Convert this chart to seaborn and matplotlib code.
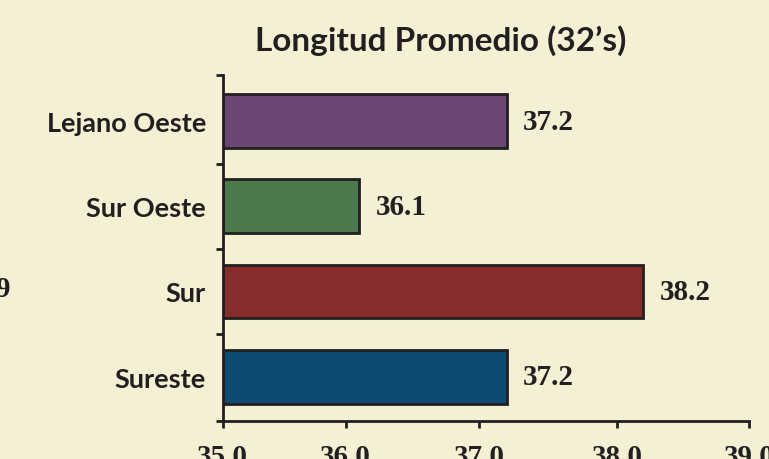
import matplotlib
matplotlib.use('Agg')
import matplotlib.pyplot as plt
import numpy as np
import pandas as pd
import seaborn as sns

# Datos
regiones = ['Lejano Oeste', 'Sur Oeste', 'Sur', 'Sureste']
longitud = [37.2, 36.1, 38.2, 37.2]
x_ticks = [35.0, 36.0, 37.0, 38.0, 39.0]
colores = ['#6A4673', '#4A7A4B', '#862E2E', '#0E4A72']

# el eje original no es uniforme: separación medida entre marcas (px)
tick_px = [0, 123, 256.3, 394.3, 526.3]

BG = '#F4F0D4'
INK = '#231F20'
NUM_FONT = ['Liberation Serif', 'DejaVu Serif']

sns.set_theme(style='white')
plt.rcParams['font.family'] = ['Lato', 'DejaVu Sans']
plt.rcParams['font.weight'] = 'bold'

df = pd.DataFrame({'region': regiones, 'longitud': longitud})

fig = plt.figure(figsize=(7.69, 4.6), dpi=100, facecolor=BG)
ax = fig.add_axes([0.2896, 0.0826, 0.6844, 0.7522])
ax.set_facecolor(BG)

sns.barplot(data=df, x='longitud', y='region', hue='region', palette=colores,
            order=regiones, legend=False, width=0.63, orient='h', saturation=1,
            edgecolor=INK, linewidth=2, ax=ax)
for bar in ax.patches:
    # las barras parten de 35.0 (eje recortado)
    w = bar.get_width()
    bar.set_x(35.0)
    bar.set_width(w - 35.0)

ax.set_xscale('function', functions=(
    lambda x: np.interp(x, x_ticks, tick_px),
    lambda p: np.interp(p, tick_px, x_ticks)))

for i, v in enumerate(longitud):
    ax.annotate(f'{v:.1f}', (v, i), xytext=(12, 0), textcoords='offset points',
                va='center', ha='left', fontsize=21, fontweight='bold',
                family=NUM_FONT, color=INK)

ax.set_xlim(35.0, 39.0)
ax.set_ylim(3.52, -0.54)
ax.set_xticks(x_ticks)
ax.set_xticklabels([f'{t:.1f}' for t in x_ticks], fontsize=21, fontweight='bold',
                   family=NUM_FONT, color=INK)
ax.xaxis.set_minor_locator(matplotlib.ticker.NullLocator())
ax.tick_params(axis='x', direction='out', length=5, width=2, color=INK, pad=11, bottom=True)

ax.set_yticks(range(len(regiones)))
ax.set_yticklabels(regiones, fontsize=19.5, fontweight='bold', color=INK)
ax.set_yticks([-0.54, 0.5, 1.5, 2.5, 3.52], minor=True)
ax.tick_params(axis='y', which='major', length=0, pad=12)
ax.tick_params(axis='y', which='minor', direction='out', length=5, width=2, color=INK, left=True)

ax.set_xlabel('')
ax.set_ylabel('')
for side in ['top', 'right']:
    ax.spines[side].set_visible(False)
for side in ['left', 'bottom']:
    ax.spines[side].set_color(INK)
    ax.spines[side].set_linewidth(2)

fig.text(0.5735, 0.912, 'Longitud Promedio (32\u2019s)', ha='center', va='center',
         fontsize=24, fontweight='bold', color=INK)
fig.text(-0.006, 0.37, '9', ha='left', va='center', fontsize=21,
         fontweight='bold', family=NUM_FONT, color=INK)

fig.savefig('out.png', dpi=100, facecolor=BG)
